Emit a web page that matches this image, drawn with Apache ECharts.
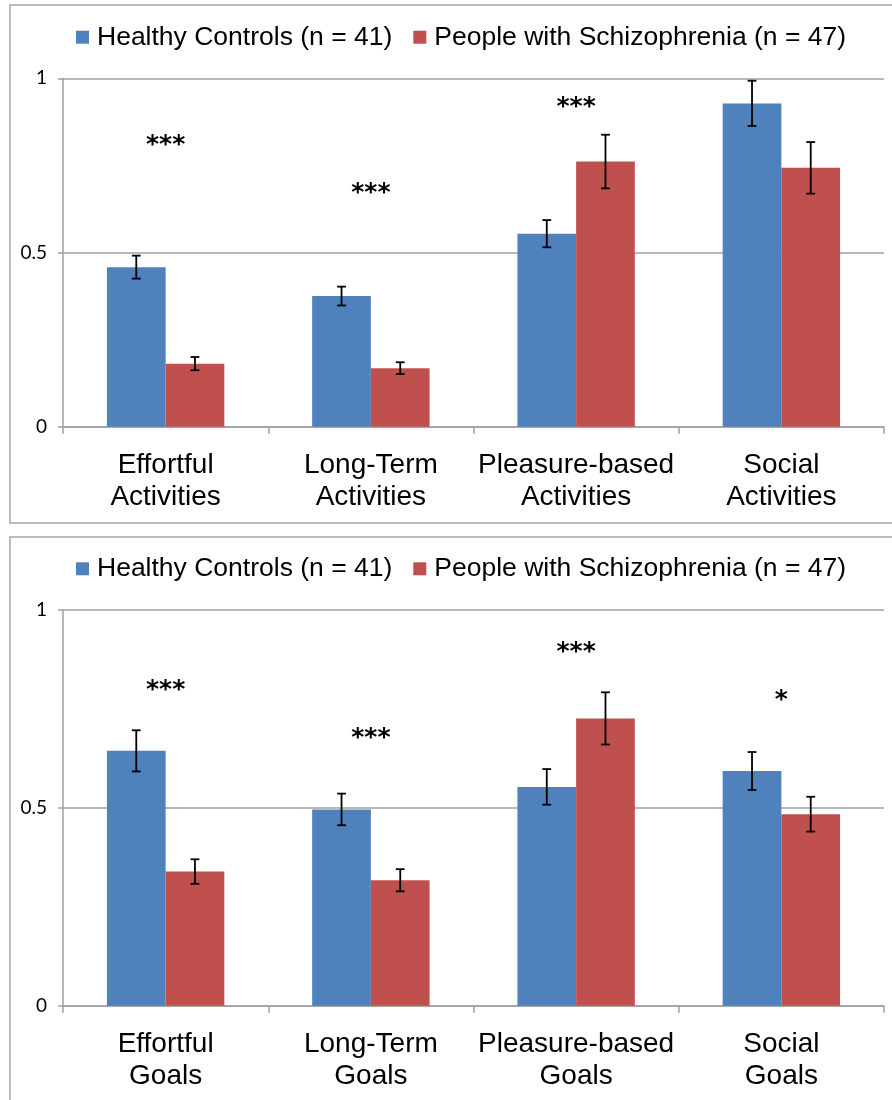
<!DOCTYPE html>
<html>
<head>
<meta charset="utf-8">
<script src="https://cdn.jsdelivr.net/npm/echarts@6/dist/echarts.min.js"></script>
<style>
html,body{margin:0;padding:0;background:#fff;}
#chart{width:892px;height:1100px;}
</style>
</head>
<body>
<div id="chart"></div>
<script>
// ---- data ----
const seriesNames = ['Healthy Controls (n = 41)', 'People with Schizophrenia (n = 47)'];
const categoriesTop = ['Effortful\nActivities', 'Long-Term\nActivities', 'Pleasure-based\nActivities', 'Social\nActivities'];
const categoriesBottom = ['Effortful\nGoals', 'Long-Term\nGoals', 'Pleasure-based\nGoals', 'Social\nGoals'];

const activitiesHC = [0.458, 0.375, 0.554, 0.928];
const activitiesHCErr = [0.033, 0.027, 0.039, 0.065];
const activitiesSZ = [0.181, 0.168, 0.761, 0.743];
const activitiesSZErr = [0.019, 0.017, 0.077, 0.074];
const activitiesSig = ['***', '***', '***', ''];
const activitiesSigY = [0.821, 0.684, 0.930, 0];

const goalsHC = [0.644, 0.496, 0.553, 0.593];
const goalsHCErr = [0.052, 0.040, 0.045, 0.048];
const goalsSZ = [0.339, 0.317, 0.726, 0.484];
const goalsSZErr = [0.031, 0.028, 0.066, 0.044];
const goalsSig = ['***', '***', '***', '*'];
const goalsSigY = [0.808, 0.689, 0.904, 0.783];

const yMin = 0, yMax = 1, yStep = 0.5;

// ---- styling ----
const BLUE = '#4F81BD', RED = '#C0504D';
const AXIS = '#a0a0a0';
const GAP = 0.428;

const chart = echarts.init(document.getElementById('chart'));

function errRender(sign) {
  return function (params, api) {
    const i = api.value(0), m = api.value(1), e = api.value(2);
    const band = api.size([1, 0])[0];
    const bw = band * (1 - GAP) / 2;
    const off = sign * bw / 2;
    const t = api.coord([i, m + e]);
    const b = api.coord([i, m - e]);
    const x = t[0] + off, h = 4.4;
    const st = {stroke: '#000', lineWidth: 1.8};
    return {type: 'group', children: [
      {type: 'line', shape: {x1: x, y1: t[1], x2: x, y2: b[1]}, style: st},
      {type: 'line', shape: {x1: x - h, y1: t[1], x2: x + h, y2: t[1]}, style: st},
      {type: 'line', shape: {x1: x - h, y1: b[1], x2: x + h, y2: b[1]}, style: st}
    ]};
  };
}
function sigRender(labels) {
  return function (params, api) {
    const txt = labels[params.dataIndex];
    if (!txt) return null;
    const p = api.coord([api.value(0), api.value(1)]);
    return {type: 'text', x: p[0], y: p[1] + 5,
      style: {text: txt, fontSize: 25, fontWeight: 'bold', fontFamily: 'DejaVu Sans', fill: '#000', align: 'center', verticalAlign: 'middle'}};
  };
}

function panel(idx, cats, hc, hcE, sz, szE, sig, sigY) {
  return [
    {name: seriesNames[0], type: 'bar', xAxisIndex: idx, yAxisIndex: idx, data: hc, itemStyle: {color: BLUE},
     barGap: '0%', barCategoryGap: (GAP * 100) + '%'},
    {name: seriesNames[1], type: 'bar', xAxisIndex: idx, yAxisIndex: idx, data: sz, itemStyle: {color: RED},
     barGap: '0%', barCategoryGap: (GAP * 100) + '%'},
    {type: 'custom', xAxisIndex: idx, yAxisIndex: idx, z: 10, renderItem: errRender(-1),
     data: cats.map((c, i) => [i, hc[i], hcE[i]])},
    {type: 'custom', xAxisIndex: idx, yAxisIndex: idx, z: 10, renderItem: errRender(1),
     data: cats.map((c, i) => [i, sz[i], szE[i]])},
    {type: 'custom', xAxisIndex: idx, yAxisIndex: idx, z: 10, renderItem: sigRender(sig),
     data: cats.map((c, i) => [i, sigY[i]])}
  ];
}

const xAxisCommon = {
  type: 'category',
  axisLine: {lineStyle: {color: AXIS, width: 1.5}},
  axisTick: {show: true, length: 7, lineStyle: {color: AXIS, width: 1.5}},
  axisLabel: {color: '#000', fontSize: 28, fontFamily: 'Liberation Sans', lineHeight: 32, margin: 23, interval: 0}
};
const yAxisCommon = {
  type: 'value', min: yMin, max: yMax, interval: yStep,
  axisLine: {show: true, lineStyle: {color: AXIS, width: 1.5}},
  axisTick: {show: true, length: 5, lineStyle: {color: AXIS, width: 1.5}},
  splitLine: {show: true, lineStyle: {color: AXIS, width: 1.5}},
  axisLabel: {color: '#000', fontSize: 19, fontFamily: 'Lato', margin: 16}
};
const legendCommon = {
  data: seriesNames, left: 76, padding: 0, itemWidth: 13, itemHeight: 13, itemGap: 21, icon: 'rect',
  textStyle: {fontSize: 26.5, fontFamily: 'Liberation Sans', color: '#000', lineHeight: 26, padding: [0, 0, 0, 3]}
};

const option = {
  animation: false,
  backgroundColor: '#fff',
  graphic: [
    {type: 'rect', shape: {x: 10, y: 5, width: 900, height: 518}, style: {fill: 'none', stroke: '#bdbdbd', lineWidth: 2}, z: -1},
    {type: 'rect', shape: {x: 10, y: 537, width: 900, height: 600}, style: {fill: 'none', stroke: '#bdbdbd', lineWidth: 2}, z: -1}
  ],
  legend: [
    Object.assign({}, legendCommon, {top: 23.7}),
    Object.assign({}, legendCommon, {top: 555.3})
  ],
  grid: [
    {left: 63, right: 8, top: 78.3, height: 348.4},
    {left: 63, right: 8, top: 610, height: 395.7}
  ],
  xAxis: [
    Object.assign({}, xAxisCommon, {gridIndex: 0, data: categoriesTop}),
    Object.assign({}, xAxisCommon, {gridIndex: 1, data: categoriesBottom})
  ],
  yAxis: [
    Object.assign({}, yAxisCommon, {gridIndex: 0}),
    Object.assign({}, yAxisCommon, {gridIndex: 1})
  ],
  series: [].concat(
    panel(0, categoriesTop, activitiesHC, activitiesHCErr, activitiesSZ, activitiesSZErr, activitiesSig, activitiesSigY),
    panel(1, categoriesBottom, goalsHC, goalsHCErr, goalsSZ, goalsSZErr, goalsSig, goalsSigY)
  )
};
chart.setOption(option);
</script>
</body>
</html>
